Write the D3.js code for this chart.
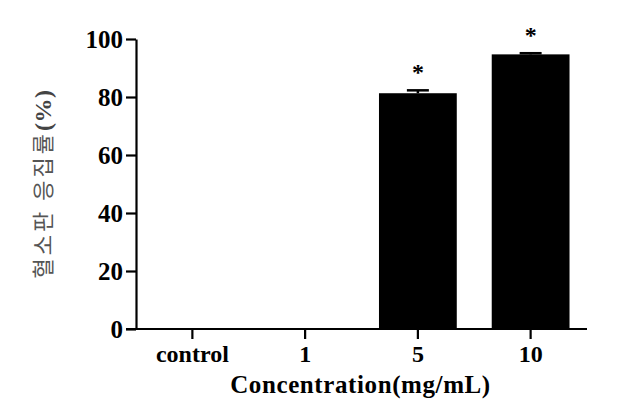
<!DOCTYPE html>
<html><head><meta charset="utf-8">
<script src="https://cdn.jsdelivr.net/npm/d3@7"></script>
<style>body{margin:0;background:#fff}svg{display:block}</style>
</head><body>
<svg id="c" width="619" height="417"></svg>
<script>
const categories = ["control", "1", "5", "10"];
const values = [0, 0, 81.3, 94.7];
const errors = [0, 0, 1.0, 0.4];
const significant = [false, false, true, true];
const yTicks = [0, 20, 40, 60, 80, 100];
const xTitle = "Concentration(mg/mL)";
const yTitleMain = "혈소판 응집률";
const yTitleUnit = "(%)";

const svg = d3.select("#c");
const m = {left: 136, right: 32, top: 39, bottom: 88};
const W = 619, H = 417;
const x = d3.scaleBand().domain(categories).range([m.left, W - m.right]).paddingInner(0.31).paddingOuter(0.155);
const y = d3.scaleLinear().domain([0, 100]).range([H - m.bottom, m.top]);
const serif = "'Liberation Serif','Times New Roman',serif";

// bars
svg.append("g").selectAll("rect").data(values).join("rect")
  .attr("x", (d, i) => x(categories[i]))
  .attr("width", x.bandwidth())
  .attr("y", d => y(d))
  .attr("height", d => y(0) - y(d))
  .attr("fill", "#000");

// error bars
const eg = svg.append("g").attr("stroke", "#000").attr("stroke-width", 2.5);
values.forEach((v, i) => {
  if (!errors[i]) return;
  const cx = x(categories[i]) + x.bandwidth() / 2;
  eg.append("line").attr("x1", cx).attr("x2", cx).attr("y1", y(v)).attr("y2", y(v + errors[i]));
  eg.append("line").attr("x1", cx - 11).attr("x2", cx + 11).attr("y1", y(v + errors[i])).attr("y2", y(v + errors[i]));
});

// asterisks
values.forEach((v, i) => {
  if (!significant[i]) return;
  const cx = x(categories[i]) + x.bandwidth() / 2;
  svg.append("text").attr("x", cx).attr("y", y(v + errors[i]) - 10)
    .attr("text-anchor", "middle").attr("font-family", serif).attr("font-weight", "bold")
    .attr("font-size", 24).text("*");
});

// y axis
const ya = svg.append("g").attr("transform", `translate(${m.left},0)`)
  .call(d3.axisLeft(y).tickValues(yTicks).tickSize(10).tickPadding(3).tickSizeOuter(0));
ya.select(".domain").attr("stroke-width", 2.2);
ya.selectAll(".tick line").attr("stroke-width", 2.2);
ya.selectAll("text").attr("font-family", serif).attr("font-weight", "bold").attr("font-size", 25).attr("fill", "#000");

// x axis
const xa = svg.append("g").attr("transform", `translate(0,${y(0)})`)
  .call(d3.axisBottom(x).tickSize(10).tickPadding(6).tickSizeOuter(0));
xa.select(".domain").attr("stroke-width", 2.2).attr("d", `M${m.left - 10},0H${W - m.right}`);
xa.selectAll(".tick line").attr("stroke-width", 2.2);
xa.selectAll("text").attr("font-family", serif).attr("font-weight", "bold").attr("font-size", 24).attr("fill", "#000");

// titles
svg.append("text").attr("x", (m.left + W - m.right) / 2 - 1).attr("y", 393)
  .attr("text-anchor", "middle").attr("font-family", serif).attr("font-weight", "bold")
  .attr("font-size", 25).attr("letter-spacing", 0.6).text(xTitle);
const yt = svg.append("text").attr("transform", "translate(51,184) rotate(-90)")
  .attr("text-anchor", "middle").attr("font-family", "'Noto Sans CJK KR',sans-serif")
  .attr("font-size", 22).attr("letter-spacing", 3).attr("fill", "#555");
yt.append("tspan").text(yTitleMain);
yt.append("tspan").attr("font-family", serif).attr("font-weight", "bold").attr("font-size", 24)
  .attr("letter-spacing", 0.5).attr("fill", "#444").text(yTitleUnit);
</script>
</body></html>
